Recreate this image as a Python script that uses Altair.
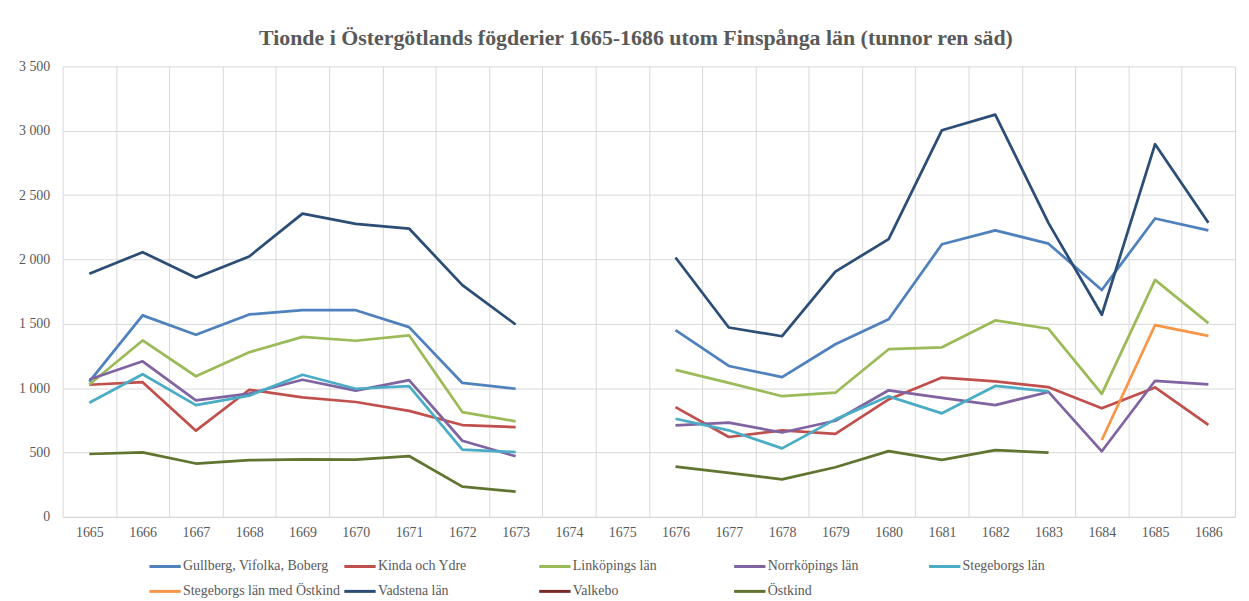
import altair as alt
import pandas as pd

years = list(range(1665, 1687))

series_names = [
    "Gullberg, Vifolka, Boberg",
    "Kinda och Ydre",
    "Linköpings län",
    "Norrköpings län",
    "Stegeborgs län",
    "Stegeborgs län med Östkind",
    "Vadstena län",
    "Valkebo",
    "Östkind",
]
series_colors = ["#4F81BD", "#C0504D", "#9BBB59", "#8064A2", "#4BACC6",
                 "#F79646", "#2C4D75", "#772C2A", "#5F7530"]

N = None
# values per year 1665..1686 (1674, 1675 missing)
gullberg = [1050, 1565, 1415, 1572, 1605, 1605, 1474, 1040, 995, N, N,
            1450, 1172, 1085, 1341, 1535, 2118, 2226, 2122, 1762, 2318, 2225]
kinda = [1026, 1046, 669, 987, 928, 892, 823, 713, 697, N, N,
         852, 620, 672, 644, 912, 1082, 1052, 1007, 843, 1005, 714]
linkoping = [1028, 1370, 1092, 1279, 1398, 1368, 1410, 814, 742, N, N,
             1142, 1040, 937, 964, 1302, 1317, 1526, 1461, 955, 1841, 1505]
norrkoping = [1067, 1208, 905, 957, 1065, 980, 1062, 591, 470, N, N,
              711, 731, 655, 746, 983, 924, 868, 970, 509, 1057, 1029]
stegeborg = [886, 1108, 868, 941, 1104, 995, 1016, 522, 503, N, N,
             762, 672, 532, 757, 936, 804, 1017, 975, N, N, N]
stegeborg_ostkind = [N, N, N, N, N, N, N, N, N, N, N,
                     N, N, N, N, N, N, N, N, 597, 1490, 1406]
vadstena = [1888, 2056, 1858, 2023, 2356, 2276, 2240, 1800, 1494, N, N,
            2015, 1471, 1403, 1905, 2158, 3004, 3125, 2282, 1570, 2895, 2285]
valkebo = [N] * 22
ostkind = [488, 500, 414, 440, 447, 444, 472, 234, 195, N, N,
           390, 341, 291, 385, 510, 442, 518, 498, N, N, N]

all_values = [gullberg, kinda, linkoping, norrkoping, stegeborg,
              stegeborg_ostkind, vadstena, valkebo, ostkind]

rows = []
for name, vals in zip(series_names, all_values):
    for yr, v in zip(years, vals):
        if v is None:
            continue
        rows.append({"serie": name, "year": yr, "value": v,
                     "segment": name + ("_a" if yr < 1674 else "_b")})
df = pd.DataFrame(rows)

FONT = "Liberation Serif"
GRAY = "#595959"
GRID = "#d9d9d9"

chart = alt.Chart(df).mark_line(strokeWidth=2.75, strokeJoin="round").encode(
    x=alt.X("year:O",
            scale=alt.Scale(type="band", domain=years, paddingInner=0, paddingOuter=0),
            axis=alt.Axis(title=None, labelAngle=0, tickBand="extent", grid=True,
                          gridColor=GRID, ticks=False, domainColor=GRID,
                          labelFont=FONT, labelFontSize=14, labelColor=GRAY,
                          labelPadding=9)),
    y=alt.Y("value:Q",
            scale=alt.Scale(domain=[0, 3500], nice=False),
            axis=alt.Axis(title=None, values=list(range(0, 3501, 500)),
                          labelExpr="replace(format(datum.value, ','), ',', ' ')",
                          grid=True, gridColor=GRID, ticks=False, domain=False,
                          labelFont=FONT, labelFontSize=14, labelColor=GRAY,
                          labelPadding=13)),
    color=alt.Color("serie:N",
                    scale=alt.Scale(domain=series_names, range=series_colors),
                    legend=alt.Legend(title=None, orient="none", legendX=91, legendY=491,
                                      direction="horizontal", columns=5, gridAlign="all",
                                      symbolType="M-1.5,0H1.5", symbolSize=441,
                                      symbolStrokeWidth=3, labelOffset=6,
                                      columnPadding=-3, rowPadding=6, padding=0,
                                      labelFont=FONT, labelFontSize=14,
                                      labelColor=GRAY, labelLimit=0)),
    detail="segment:N",
).properties(
    width=1179,
    height=453,
    autosize=alt.AutoSizeParams(type="none"),
    padding={"left": 55, "top": 57, "right": 6, "bottom": 84},
    title=alt.TitleParams(
        "Tionde i Östergötlands fögderier 1665-1686 utom Finspånga län (tunnor ren säd)",
        font=FONT, fontSize=22, fontWeight="bold", color=GRAY,
        anchor="middle", frame="group", dx=-13, offset=-8, baseline="alphabetic"),
).configure_view(stroke=None)

chart.save("out.html", embed_options={"renderer": "svg", "actions": False})
